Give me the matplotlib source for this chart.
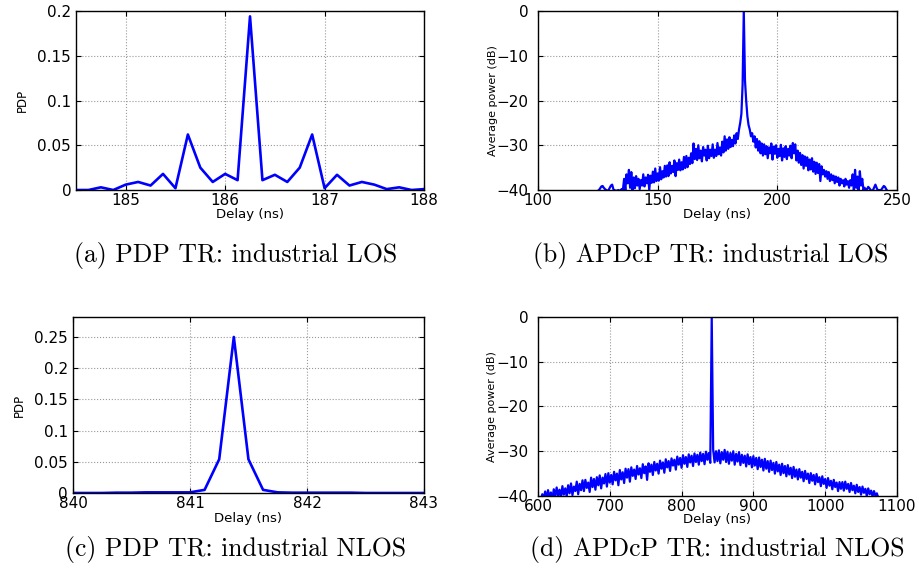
import numpy as np
import matplotlib
matplotlib.use("Agg")
import matplotlib.pyplot as plt

plt.rcParams["font.family"] = ["DejaVu Sans"]

# ---------- PDP, industrial LOS (8 GHz sampling, 0.125 ns) ----------
delay_a = np.arange(184.5, 188.01, 0.125)
pdp_a = [0.0, 0.0, 0.003, 0.0, 0.006, 0.009, 0.005, 0.018, 0.002, 0.062,
         0.025, 0.009, 0.018, 0.011, 0.194, 0.011, 0.017, 0.009, 0.025, 0.062,
         0.002, 0.017, 0.005, 0.009, 0.006, 0.001, 0.003, 0.0, 0.001]

# ---------- PDP, industrial NLOS ----------
delay_c = np.arange(840.0, 843.01, 0.125)
pdp_c = [0.0, 0.0, 0.0, 0.0005, 0.0005, 0.001, 0.001, 0.001, 0.001, 0.005,
         0.054, 0.25, 0.054, 0.005, 0.001, 0.0005, 0.0005, 0.0005, 0.0005, 0.0005,
         0.0, 0.0, 0.0, 0.0, 0.0]

# ---------- APDcP, industrial LOS (dB), 0.5 ns steps from 124 ns ----------
delay_b = np.arange(124.0, 248.01, 0.5)
power_b = [
    -41, -41, -40.2, -40, -39.6, -39.2, -39.1, -39.5, -39.8, -40,
    -40.2, -40, -39.5, -39.0, -38.8, -39.8, -40.2, -40.1, -40.2, -40.0,
    -40.2, -40.0, -39.8, -39.9, -37.5, -40.0, -36.5, -38.5, -35.5, -39.5,
    -36.0, -40.3, -37.2, -39.6, -36.9, -39.0, -37.5, -39.8, -37.8, -39.0,
    -36.5, -39.2, -37.2, -38.5, -36.6, -40.0, -36.8, -38.4, -35.9, -38.3,
    -35.2, -38.0, -36.3, -37.9, -34.9, -37.6, -35.8, -37.2, -34.6, -37.0,
    -34.5, -36.9, -33.8, -36.3, -34.6, -36.0, -33.4, -36.9, -34.0, -35.5,
    -33.2, -35.6, -33.8, -35.4, -32.6, -35.1, -32.4, -34.9, -32.8, -34.2,
    -31.8, -34.0, -29.6, -33.1, -30.8, -33.3, -30.0, -32.9, -31.2, -33.6,
    -30.4, -32.3, -31.0, -33.4, -30.1, -32.9, -31.0, -32.4, -29.8, -32.8,
    -31.0, -32.4, -29.5, -32.0, -30.5, -32.3, -29.2, -31.6, -28.0, -31.2,
    -28.7, -30.8, -28.2, -30.4, -28.8, -30.2, -27.8, -29.6, -27.3, -28.6,
    -26.5, -25.0, -23.0, -16.5, 0.0, -15.5, -20.0, -23.5, -25.5, -26.5,
    -28.0, -27.3, -29.2, -28.0, -30.5, -28.6, -31.2, -29.1, -31.8, -29.6,
    -32.3, -29.8, -32.0, -30.2, -32.9, -30.5, -31.8, -29.6, -33.2, -30.3,
    -31.9, -30.0, -32.8, -30.8, -32.4, -29.9, -33.4, -30.7, -32.6, -30.2,
    -33.1, -30.8, -32.3, -30.1, -32.9, -29.5, -31.8, -29.8, -33.4, -31.2,
    -33.9, -31.7, -34.4, -32.2, -35.2, -32.5, -34.6, -32.7, -35.6, -33.2,
    -35.4, -32.9, -35.9, -33.7, -36.4, -33.9, -36.2, -34.2, -38.0, -34.7,
    -36.5, -35.5, -37.0, -35.8, -37.5, -36.0, -38.0, -36.5, -37.8, -36.8,
    -38.5, -37.0, -38.2, -37.2, -39.0, -37.5, -38.5, -37.8, -39.2, -37.5,
    -38.8, -38.0, -39.5, -37.8, -39.0, -36.5, -40.2, -35.5, -39.5, -37.0,
    -40.3, -35.8, -39.0, -37.5, -40.0, -39.5, -40.1, -39.8, -39.3, -39.6,
    -40.0, -40.2, -40.0, -39.4, -38.8, -39.5, -40.1, -40.0, -40.2, -39.9,
    -39.5, -39.1, -39.3, -39.8, -40.2, -40.5, -41, -41, -41,
]

# ---------- APDcP, industrial NLOS (dB), 2 ns steps from 604 ns ----------
delay_d = np.arange(604.0, 1076.01, 2.0)
power_d = [
    -41.0, -39.6, -40.6, -39.0, -40.8, -38.7, -40.5, -39.2, -40.9, -38.5,
    -40.2, -38.1, -39.9, -38.6, -40.4, -37.8, -39.7, -38.3, -40.1, -37.6,
    -39.4, -37.2, -39.8, -37.9, -38.9, -36.8, -39.6, -37.3, -38.7, -36.5,
    -38.9, -36.4, -38.2, -37.0, -39.1, -35.9, -38.0, -36.2, -38.6, -35.8,
    -37.6, -35.4, -38.3, -35.9, -37.2, -35.1, -37.9, -34.9, -37.0, -35.3,
    -37.4, -34.6, -36.5, -35.0, -37.6, -34.2, -36.3, -34.7, -37.1, -33.9,
    -35.9, -34.0, -36.8, -33.6, -35.5, -34.1, -36.2, -33.3, -35.2, -33.8,
    -36.0, -32.9, -34.9, -33.4, -36.4, -32.7, -34.6, -33.0, -35.3, -32.4,
    -34.3, -32.8, -35.0, -32.1, -33.9, -32.5, -34.8, -31.8, -33.6, -32.2,
    -34.4, -31.6, -33.2, -31.9, -34.1, -31.2, -33.0, -31.5, -33.7, -30.9,
    -32.8, -31.3, -33.5, -30.7, -32.5, -31.0, -33.3, -30.5, -32.4, -30.8,
    -33.0, -30.3, -32.2, -30.6, -32.9, -30.1, -31.9, -30.4, -32.6, 0.0,
    -29.6, -32.5, -30.0, -32.2, -29.8, -32.7, -30.2, -31.9, -29.7, -32.4,
    -30.1, -32.8, -30.4, -32.1, -30.0, -33.0, -30.6, -32.3, -30.2, -33.1,
    -30.8, -32.6, -31.0, -33.4, -30.7, -32.9, -31.3, -33.6, -31.1, -33.2,
    -31.5, -34.0, -31.4, -33.5, -31.9, -34.3, -31.7, -33.9, -32.2, -34.6,
    -32.1, -34.2, -32.6, -35.0, -32.4, -34.5, -33.0, -35.3, -32.8, -34.9,
    -33.3, -35.6, -33.1, -35.2, -33.7, -36.0, -33.5, -35.7, -34.1, -36.3,
    -34.0, -35.9, -34.6, -36.7, -34.4, -36.2, -35.0, -37.1, -34.9, -36.6,
    -35.3, -37.4, -35.1, -36.9, -35.8, -37.8, -35.6, -37.3, -36.2, -38.2,
    -36.0, -37.7, -36.6, -38.5, -36.4, -38.0, -37.0, -38.9, -36.9, -38.4,
    -36.9, -38.8, -36.8, -38.4, -37.3, -39.1, -37.1, -38.7, -37.7, -39.4,
    -37.5, -39.1, -38.0, -39.7, -37.9, -39.3, -38.4, -40.0, -38.3, -39.6,
    -38.8, -40.1, -38.9, -40.0, -39.4, -40.4, -41.0,
]

pdp_ticks_a = [0, 0.05, 0.1, 0.15, 0.2]
pdp_labels_a = ["0", "0.05", "0.1", "0.15", "0.2"]
pdp_ticks_c = [0, 0.05, 0.1, 0.15, 0.2, 0.25]
pdp_labels_c = ["0", "0.05", "0.1", "0.15", "0.2", "0.25"]
db_ticks = [-40, -30, -20, -10, 0]
db_labels = ["\u221240", "\u221230", "\u221220", "\u221210", "0"]

captions = ["(a) PDP TR: industrial LOS", "(b) APDcP TR: industrial LOS",
            "(c) PDP TR: industrial NLOS", "(d) APDcP TR: industrial NLOS"]

fig = plt.figure(figsize=(9.19, 5.77), dpi=100)
ax_a = fig.add_axes([0.0827, 0.6707, 0.3787, 0.3102])
ax_b = fig.add_axes([0.5854, 0.6707, 0.3906, 0.3102])
ax_c = fig.add_axes([0.0794, 0.1456, 0.3819, 0.3050])
ax_d = fig.add_axes([0.5854, 0.1404, 0.3906, 0.3102])

blue = (0, 0, 1)
ax_a.plot(delay_a, pdp_a, color=blue, lw=1.9)
ax_c.plot(delay_c, pdp_c, color=blue, lw=1.9)
ax_b.plot(delay_b, power_b, color=blue, lw=1.6)
ax_d.plot(delay_d, power_d, color=blue, lw=1.6)

ax_a.set_xlim(184.5, 188)
ax_a.set_ylim(0, 0.2)
ax_a.set_xticks([185, 186, 187, 188])
ax_a.set_yticks(pdp_ticks_a)
ax_a.set_yticklabels(pdp_labels_a)

ax_c.set_xlim(840, 843)
ax_c.set_ylim(0, 0.282)
ax_c.set_xticks([840, 841, 842, 843])
ax_c.set_yticks(pdp_ticks_c)
ax_c.set_yticklabels(pdp_labels_c)

ax_b.set_xlim(100, 250)
ax_b.set_xticks([100, 150, 200, 250])
ax_d.set_xlim(600, 1100)
ax_d.set_xticks([600, 700, 800, 900, 1000, 1100])
for ax in (ax_b, ax_d):
    ax.set_ylim(-40, 0)
    ax.set_yticks(db_ticks)
    ax.set_yticklabels(db_labels)

for ax in (ax_a, ax_b, ax_c, ax_d):
    ax.grid(True, linestyle=":", color="0.6", linewidth=0.8)
    ax.tick_params(direction="in", top=True, right=True, length=3.5,
                   width=0.8, labelsize=11)
    for sp in ax.spines.values():
        sp.set_linewidth(1.0)
    ax.set_xlabel("Delay (ns)", fontsize=9.5)

ax_a.tick_params(axis="y", pad=3.5)
ax_c.tick_params(axis="y", pad=3.5)
ax_b.tick_params(axis="y", pad=7)
ax_d.tick_params(axis="y", pad=7)
ax_a.tick_params(axis="x", pad=2.5)
ax_b.tick_params(axis="x", pad=2.5)
ax_c.tick_params(axis="x", pad=2)
ax_d.tick_params(axis="x", pad=2)

ax_a.set_ylabel("PDP", fontsize=8.5)
ax_c.set_ylabel("PDP", fontsize=8.5)
ax_b.set_ylabel("Average power (dB)", fontsize=8)
ax_d.set_ylabel("Average power (dB)", fontsize=8)

ax_a.xaxis.set_label_coords(0.5, -0.1)
ax_b.xaxis.set_label_coords(0.499, -0.1)
ax_c.xaxis.set_label_coords(0.499, -0.108)
ax_d.xaxis.set_label_coords(0.499, -0.095)
ax_a.yaxis.set_label_coords(-0.135, 0.5)
ax_c.yaxis.set_label_coords(-0.134, 0.5)
ax_b.yaxis.set_label_coords(-0.111, 0.5)
ax_d.yaxis.set_label_coords(-0.114, 0.5)

# sub-figure captions under each panel
cap_pos = [(0.256, 0.558), (0.773, 0.558), (0.256, 0.047), (0.780, 0.047)]
for text, (x, y) in zip(captions, cap_pos):
    fig.text(x, y, text, ha="center", va="center", fontsize=18.5,
             family=["cmr10", "DejaVu Serif"])

fig.savefig("out.png", dpi=100)
